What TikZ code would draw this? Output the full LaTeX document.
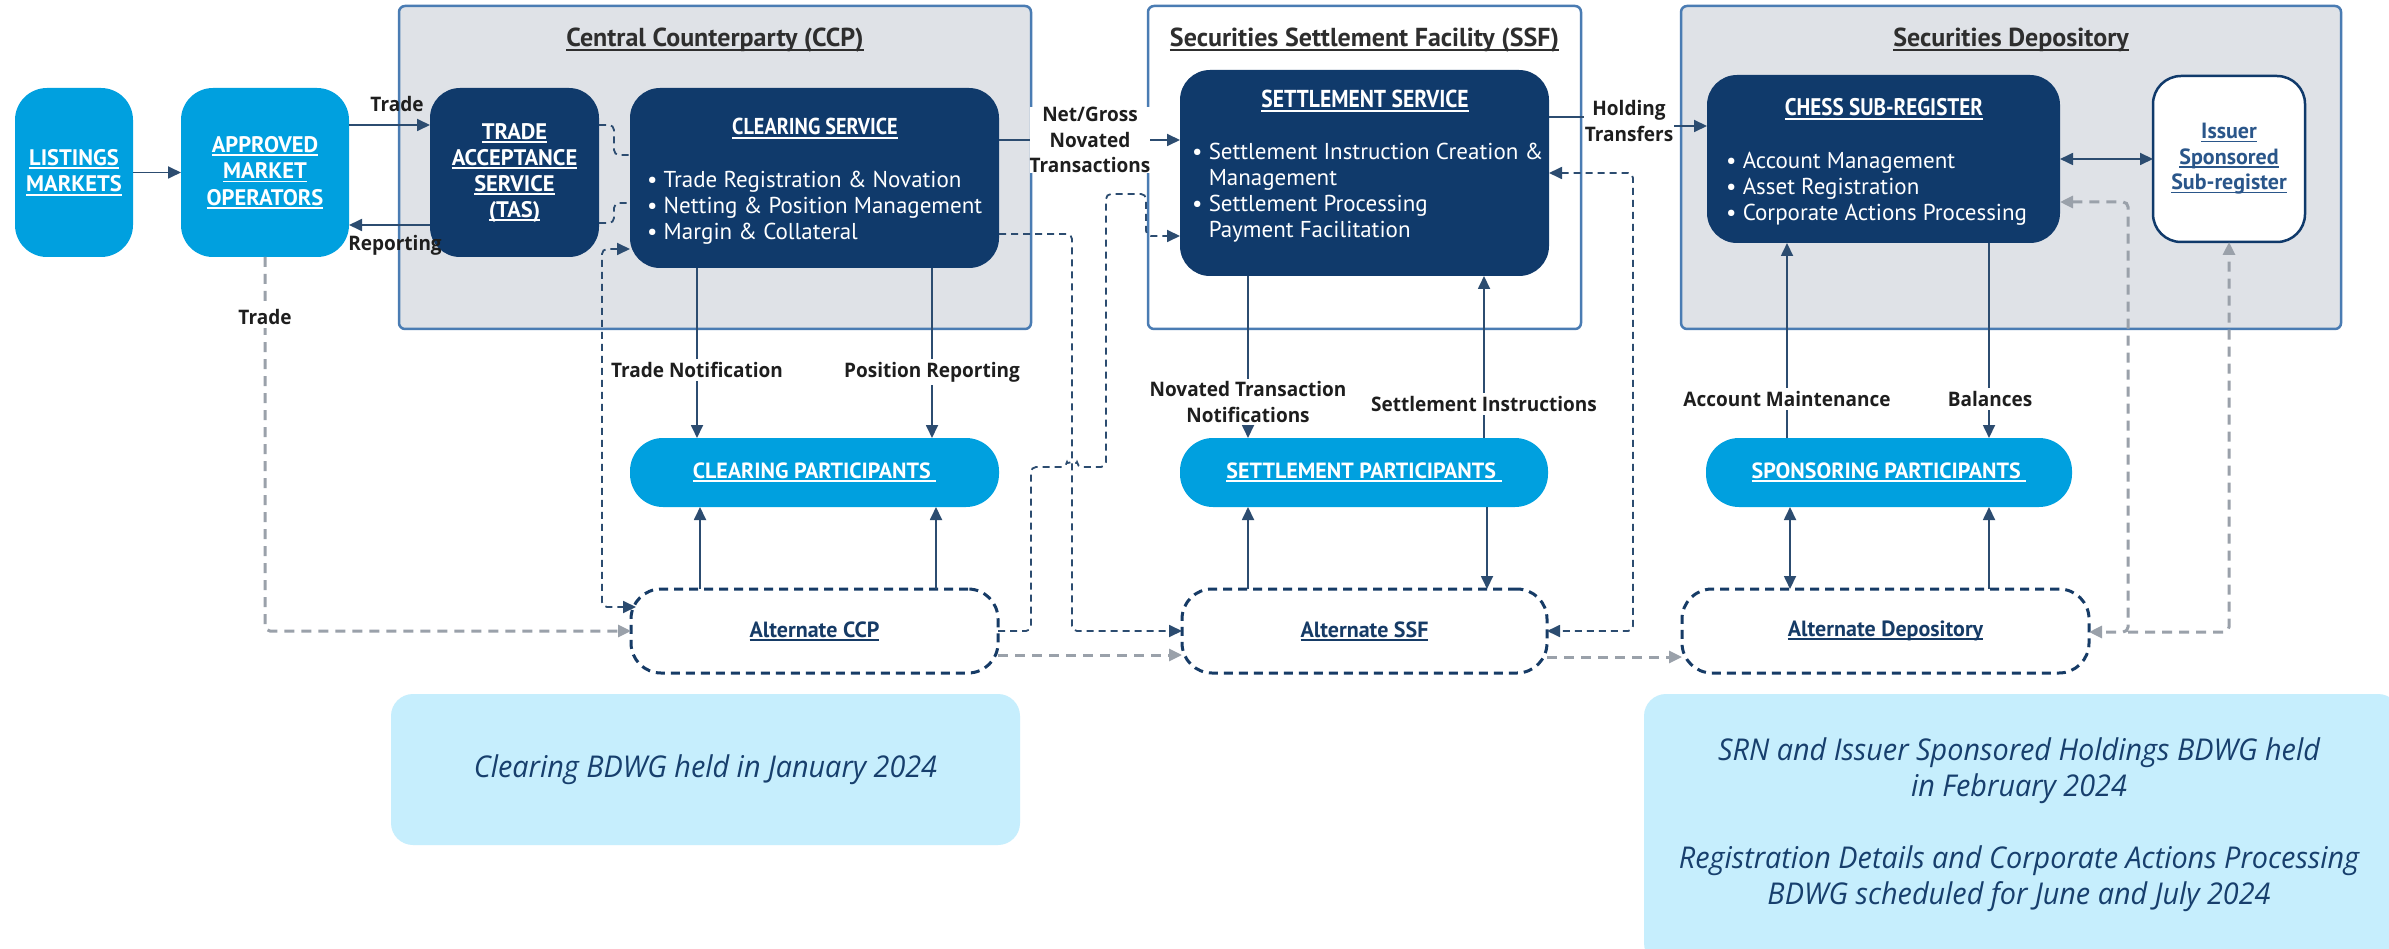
\documentclass[tikz,border=0pt]{standalone}
\usepackage{fontspec}
\setmainfont{PT Sans}
\newfontfamily\boxfont{PT Sans}
\newfontfamily\condfont[FakeStretch=0.88]{PT Sans}
\newfontfamily\lblfont[FakeStretch=0.95]{Open Sans}
\newfontfamily\notefont[FakeStretch=0.96]{Open Sans}
\usetikzlibrary{arrows.meta,calc}

\definecolor{navy}{HTML}{103A6B}
\definecolor{skyblue}{HTML}{00A0DF}
\definecolor{panel}{HTML}{DFE2E7}
\definecolor{paneledge}{HTML}{4A7CB3}
\definecolor{wire}{HTML}{2C4C70}
\definecolor{greywire}{HTML}{9AA1AA}
\definecolor{notefill}{HTML}{C6EEFD}
\definecolor{notetext}{HTML}{173F6D}
\definecolor{titletext}{HTML}{2E2E2E}
\definecolor{labeltext}{HTML}{1E1E1E}
\definecolor{linktext}{HTML}{2A568A}
\definecolor{altedge}{HTML}{163B66}

% underline drawn as a rule just under the baseline
\newsavebox\ulbox
\newcommand\ulin[1]{\leavevmode\sbox\ulbox{#1}\rlap{\rule[-0.16em]{\wd\ulbox}{0.075em}}\usebox\ulbox}

\tikzset{
  panelbox/.style={draw=paneledge, line width=2.5pt, rounded corners=6pt, inner sep=0pt, outer sep=0pt},
  paneltitle/.style={font=\boxfont\bfseries\fontsize{26}{30}\selectfont, text=titletext, inner sep=0pt},
  darkbox/.style={fill=navy, rounded corners=30pt, inner sep=0pt, outer sep=0pt},
  lightbox/.style={fill=skyblue, rounded corners=32pt, inner sep=0pt, outer sep=0pt,
    font=\boxfont\bfseries\fontsize{22.5}{26.5}\selectfont, text=white, align=center},
  pillbox/.style={fill=skyblue, rounded corners=33pt, inner sep=0pt, outer sep=0pt,
    font=\boxfont\bfseries\fontsize{22}{26}\selectfont, text=white, align=center},
  altbox/.style={draw=altedge, line width=3pt, dash pattern=on 9pt off 6pt, rounded corners=30pt,
    inner sep=0pt, outer sep=0pt, fill=white,
    font=\boxfont\bfseries\fontsize{22}{26}\selectfont, text=altedge},
  whitetitle/.style={font=\condfont\bfseries\fontsize{23}{27}\selectfont, text=white, align=center, inner sep=0pt},
  tastext/.style={font=\boxfont\bfseries\fontsize{22.5}{26}\selectfont, text=white, align=center},
  bodytext/.style={font=\boxfont\fontsize{23}{26}\selectfont, text=white, align=left, inner sep=0pt},
  wiresolid/.style={draw=wire, line width=1.8pt},
  wiredash/.style={draw=wire, line width=1.8pt, dash pattern=on 7pt off 5pt, rounded corners=5pt},
  greydash/.style={draw=greywire, line width=3pt, dash pattern=on 10pt off 7pt, rounded corners=5pt},
  lbl/.style={font=\lblfont\bfseries\fontsize{20}{25.5}\selectfont, text=labeltext, align=center, inner sep=3pt},
  lblbg/.style={lbl, fill=white},
  notebox/.style={fill=notefill, rounded corners=22pt, inner sep=0pt, outer sep=0pt},
  notetxt/.style={font=\notefont\itshape\fontsize{30}{36}\selectfont, text=notetext, align=center, inner sep=0pt},
}

\begin{document}
\begin{tikzpicture}[x=1pt, y=-1pt, >={Triangle[length=13pt,width=12pt]}]
\useasboundingbox[fill=white] (0,0) rectangle (2389,949);

% ---- row and column guides used by the connectors
\coordinate (y117) at (0,117);   \coordinate (y126) at (0,126);
\coordinate (yTrade) at (0,125); \coordinate (yRep) at (0,225);
\coordinate (y140) at (0,140);   \coordinate (y155) at (0,155);
\coordinate (y173) at (0,173);   \coordinate (y194) at (0,194);
\coordinate (y202) at (0,202);   \coordinate (y203) at (0,203);
\coordinate (y223) at (0,223);   \coordinate (y234) at (0,234);
\coordinate (y236) at (0,236);   \coordinate (y249) at (0,249);
\coordinate (y607) at (0,607);   \coordinate (y632) at (0,632);
\coordinate (y655) at (0,655);   \coordinate (y657) at (0,657);
\coordinate (c697) at (697,0);   \coordinate (c700) at (700,0);
\coordinate (c932) at (932,0);   \coordinate (c936) at (936,0);
\coordinate (c1248) at (1248,0); \coordinate (c1484) at (1484,0);
\coordinate (c1487) at (1487,0); \coordinate (c1787) at (1787,0);
\coordinate (c1790) at (1790,0); \coordinate (c1989) at (1989,0);

% ---- panels
\node[panelbox, fill=panel, minimum width=632pt, minimum height=323pt] (ccp) at (715,167.5) {};
\node[panelbox, fill=white, minimum width=433pt, minimum height=323pt] (ssf) at (1364.5,167.5) {};
\node[panelbox, fill=panel, minimum width=660pt, minimum height=323pt] (sd) at (2011,167.5) {};
\node[paneltitle, anchor=base] (ccpTitle) at (715,47) {\ulin{Central Counterparty (CCP)}};
\node[paneltitle, anchor=base] (ssfTitle) at (1364.5,47) {\ulin{Securities Settlement Facility (SSF)}};
\node[paneltitle, anchor=base] (sdTitle) at (2011,47) {\ulin{Securities Depository}};

% ---- market side
\node[lightbox, minimum width=118pt, minimum height=169pt] (lm) at (74,172.5)
  {\ulin{LISTINGS}\\\ulin{MARKETS}};
\node[lightbox, minimum width=168pt, minimum height=169pt] (amo) at (265,172.5)
  {\ulin{APPROVED}\\\ulin{MARKET}\\\ulin{OPERATORS}};

% ---- central counterparty
\node[darkbox, minimum width=169pt, minimum height=169pt, tastext] (tas) at (514.5,172.5)
  {\ulin{TRADE}\\\ulin{ACCEPTANCE}\\\ulin{SERVICE}\\\ulin{(TAS)}};
\node[darkbox, minimum width=369pt, minimum height=180pt] (cs) at (814.5,178) {};
\node[whitetitle, anchor=base] (csTitle) at (815,135) {\ulin{CLEARING SERVICE}};
\node[bodytext, anchor=north west] (csList) at (647,171)
  {• Trade Registration \& Novation\\• Netting \& Position Management\\• Margin \& Collateral};

% ---- settlement facility
\node[darkbox, minimum width=369pt, minimum height=206pt] (ss) at (1364.5,173) {};
\node[whitetitle, font=\condfont\bfseries\fontsize{24.5}{27}\selectfont, anchor=base] (ssTitle) at (1365,108)
  {\ulin{SETTLEMENT SERVICE}};
\node[bodytext, anchor=north west] (ssList) at (1192,143)
  {• Settlement Instruction Creation \&\\\phantom{• }Management\\• Settlement Processing\\\phantom{• }Payment Facilitation};

% ---- depository
\node[darkbox, minimum width=353pt, minimum height=168pt] (chess) at (1883.5,159) {};
\node[whitetitle, font=\condfont\bfseries\fontsize{24}{27}\selectfont, anchor=base] (chessTitle) at (1884,116)
  {\ulin{CHESS SUB-REGISTER}};
\node[bodytext, anchor=north west] (chessList) at (1726,152)
  {• Account Management\\• Asset Registration\\• Corporate Actions Processing};
\node[draw=navy, line width=2.5pt, fill=white, rounded corners=28pt, inner sep=0pt, outer sep=0pt,
  minimum width=152pt, minimum height=166pt, font=\boxfont\bfseries\fontsize{22}{25.5}\selectfont,
  text=linktext, align=center] (iss) at (2229,159)
  {\ulin{Issuer}\\\ulin{Sponsored}\\\ulin{Sub-register}};

% ---- participants
\node[pillbox, minimum width=369pt, minimum height=69pt] (cp) at (814.5,472.5) {\ulin{CLEARING PARTICIPANTS\ }};
\node[pillbox, minimum width=368pt, minimum height=69pt] (sp) at (1364,472.5) {\ulin{SETTLEMENT PARTICIPANTS\ }};
\node[pillbox, minimum width=366pt, minimum height=69pt] (spp) at (1889,472.5) {\ulin{SPONSORING PARTICIPANTS\ }};

% ---- alternates
\node[altbox, minimum width=367pt, minimum height=84pt] (accp) at (814.5,631) {\ulin{Alternate CCP}};
\node[altbox, minimum width=365pt, minimum height=84pt] (assf) at (1364.5,631) {\ulin{Alternate SSF}};
\node[altbox, minimum width=407pt, minimum height=84pt] (adep) at (1885.5,631) {\ulin{Alternate Depository}};
\coordinate (gJoin) at (2128,632);

% ---- grey dashed links to the alternates
\draw[greydash,->] (amo.south) -- (265,631) -- (accp.west);
\draw[greydash,->] (accp.east |- y655) -- (assf.west |- y655);
\draw[greydash,->] (assf.east |- y657) -- (adep.west |- y657);
\draw[greydash,<->] (chess.east |- y202) -- (2128,202) -- (gJoin) -- (adep.east |- y632);
\draw[greydash,->] (gJoin) -| (iss.south);

% ---- navy dashed links
\draw[wiredash] (tas.east |- yTrade) -- ++(15,0) |- (cs.west |- y155);
\draw[wiredash] (tas.east |- y223) -- ++(15,0) |- (cs.west |- y203);
\draw[wiredash,<->] (cs.west |- y249) -- ++(-28,0) |- ($(accp.west |- y607)+(5,0)$);
\draw[wiredash,->] (accp.east) -- (1031,631) -- (1031,467) -- (1067,467)
  arc[start angle=180, end angle=0, radius=5pt] -- (1106,467) -- (1106,194)
  -- (1146,194) -- (1146,236) -- (ss.west |- y236);
\draw[wiredash,->] (cs.east |- y234) -- (1072,234) -- (1072,631) -- (assf.west);
\draw[wiredash,<->] (ss.east |- y173) -- (1633,173) -- (1633,631) -- (assf.east);

% ---- solid flows
\draw[wiresolid,->] (lm) -- (amo);
\draw[wiresolid,->] (amo.east |- yTrade) -- (tas.west |- yTrade);
\draw[wiresolid,->] (tas.west |- yRep) -- (amo.east |- yRep);
\draw[wiresolid,->] (cs.east |- y140) -- (ss.west |- y140);
\draw[wiresolid,->] (ss.east |- y117) -- ++(69,0) |- (chess.west |- y126);
\draw[wiresolid,<->] (chess) -- (iss);

\draw[wiresolid,->] (cs.south -| c697) -- (cp.north -| c697);
\draw[wiresolid,->] (cs.south -| c932) -- (cp.north -| c932);
\draw[wiresolid,->] (accp.north -| c700) -- (cp.south -| c700);
\draw[wiresolid,->] (accp.north -| c936) -- (cp.south -| c936);

\draw[wiresolid,->] (ss.south -| c1248) -- (sp.north -| c1248);
\draw[wiresolid,->] (sp.north -| c1484) -- (ss.south -| c1484);
\draw[wiresolid,->] (assf.north -| c1248) -- (sp.south -| c1248);
\draw[wiresolid,->] (sp.south -| c1487) -- (assf.north -| c1487);

\draw[wiresolid,->] (spp.north -| c1787) -- (chess.south -| c1787);
\draw[wiresolid,->] (chess.south -| c1989) -- (spp.north -| c1989);
\draw[wiresolid,<->] (spp.south -| c1790) -- (adep.north -| c1790);
\draw[wiresolid,->] (adep.north -| c1989) -- (spp.south -| c1989);

% ---- flow labels
\node[lbl] (lTrade) at (397,104) {Trade};
\node[lbl] (lRep) at (395,245) {Reporting};
\node[lblbg] (lTrade2) at (265,317) {Trade};
\node[lblbg, inner sep=0pt] (lNet) at (1090,140) {Net/Gross\\Novated\\Transactions};
\node[lblbg, inner sep=1pt] (lHold) at (1629,121) {Holding\\Transfers};
\node[lblbg] (lTN) at (697,370) {Trade Notification};
\node[lblbg] (lPR) at (932,372) {Position Reporting};
\node[lblbg] (lNTN) at (1248,402) {Novated Transaction\\Notifications};
\node[lblbg] (lSI) at (1484,404) {Settlement Instructions};
\node[lblbg] (lAM) at (1787,399) {Account Maintenance};
\node[lblbg] (lBal) at (1990,399) {Balances};

% ---- working group notes
\node[notebox, minimum width=629pt, minimum height=151pt, notetxt] (note1) at (705.5,769.5)
  {Clearing BDWG held in January 2024};
\begin{scope}
  \clip (0,0) rectangle (2389,949);
  \node[notebox, minimum width=756pt, minimum height=271pt] (note2) at (2022,829.5) {};
\end{scope}
\node[notetxt] (note2txt) at (2019,825)
  {SRN and Issuer Sponsored Holdings BDWG held\\in February 2024\\[36pt]Registration Details and Corporate Actions Processing\\BDWG scheduled for June and July 2024};
\end{tikzpicture}
\end{document}
